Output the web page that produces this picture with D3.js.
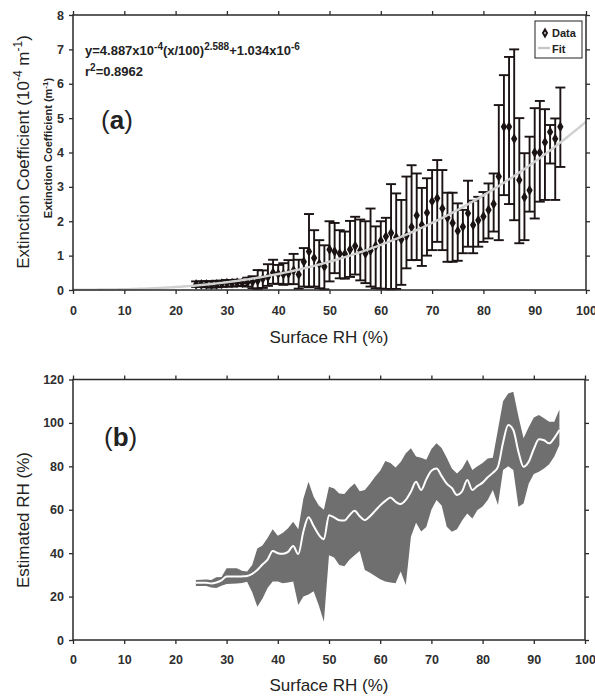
<!DOCTYPE html>
<html>
<head>
<meta charset="utf-8">
<script src="https://cdn.jsdelivr.net/npm/d3@7"></script>
<style>
  body { margin: 0; background: #fff; }
  svg { display: block; font-family: "Liberation Sans", Arial, sans-serif; }
</style>
</head>
<body>
<svg id="chart" width="595" height="697"></svg>
<script>
// Surface RH bins (%)
const surfaceRH = [24,25,26,27,28,29,30,31,32,33,34,35,36,37,38,39,40,41,42,43,
  44,45,46,47,48,49,50,51,52,53,54,55,56,57,58,59,60,61,62,63,
  64,65,66,67,68,69,70,71,72,73,74,75,76,77,78,79,80,81,82,83,
  84,85,86,87,88,89,90,91,92,93,94,95];

// Extinction coefficient per bin (10^-4 m^-1): mean and error-bar ends
const extMean = [0.16,0.16,0.16,0.15,0.16,0.18,0.20,0.20,0.21,0.21,
  0.22,0.24,0.27,0.33,0.38,0.50,0.47,0.46,0.48,0.57,
  0.45,0.82,1.12,0.93,0.76,0.68,1.18,1.12,1.06,1.05,
  1.18,1.28,1.15,1.06,1.15,1.28,1.43,1.56,1.66,1.53,
  1.47,1.58,1.83,2.17,1.89,2.25,2.58,2.67,2.37,2.10,
  1.95,1.72,1.84,2.23,1.89,2.03,2.14,2.33,2.50,3.30,
  4.75,4.75,4.40,3.20,2.70,2.90,4.00,4.00,4.30,4.60,4.40,4.75];
const extLow = [0.09,0.09,0.08,0.07,0.08,0.09,0.10,0.10,0.11,0.12,
  0.10,0.05,0.03,0.06,0.12,0.18,0.18,0.15,0.17,0.17,
  0.04,0.10,0.08,0.10,0.05,0.02,0.25,0.49,0.34,0.33,
  0.38,0.45,0.28,0.20,0.10,0.05,0.04,0.03,0.02,0.03,
  0.15,0.63,0.87,0.87,0.70,1.00,1.16,1.40,1.16,0.82,
  0.82,0.85,1.07,1.26,1.07,1.26,1.40,1.50,1.70,1.45,
  2.76,2.50,2.03,1.36,1.45,2.28,2.08,2.57,2.62,3.68,2.62,3.58];
const extHigh = [0.25,0.25,0.26,0.25,0.27,0.27,0.29,0.29,0.30,0.29,
  0.36,0.40,0.58,0.57,0.75,0.88,0.73,0.78,0.87,1.05,
  0.88,1.22,2.21,1.74,1.45,1.30,2.00,1.95,1.74,1.70,
  2.01,2.13,2.05,2.00,2.37,1.85,2.00,2.10,3.08,2.81,
  2.62,3.30,3.63,3.39,2.97,3.25,3.49,3.78,3.49,2.83,
  2.83,2.52,2.33,3.18,2.60,2.71,2.85,3.10,3.39,5.38,
  6.25,6.78,7.00,5.00,3.98,4.46,5.29,5.50,5.26,4.80,4.99,5.89];

// Estimated RH per bin (%): mean line and shaded range
const estMean = [26.4,26.4,26.4,26.0,26.5,27.5,29.2,29.2,29.2,29.3,
  29.5,30.5,32.2,34.8,37.0,41.0,40.0,39.7,40.6,43.3,
  39.6,50.0,56.5,52.5,48.5,46.4,57.5,56.5,55.2,55.0,
  57.5,59.5,57.0,55.2,57.0,59.5,62.0,64.1,65.7,63.7,
  62.6,64.5,68.3,72.9,69.1,74.0,78.0,79.0,75.5,72.0,
  70.0,66.8,68.5,73.7,69.1,71.0,72.5,75.0,77.0,79.8,
  91.0,99.0,96.7,86.7,79.8,82.1,88.0,92.5,92.0,90.6,93.0,96.7];
const estLow = [24.9,24.9,24.9,24.2,24.0,25.0,25.8,25.9,26.0,26.2,
  26.8,22.0,15.3,19.0,24.0,26.9,27.0,26.1,26.5,26.9,
  16.1,20.0,21.0,22.5,16.0,8.4,39.0,38.0,34.5,34.0,
  37.0,39.0,41.0,32.2,31.0,29.5,28.0,27.0,26.5,26.1,
  31.5,25.3,47.6,54.0,50.0,52.0,60.0,64.5,62.0,52.2,
  49.9,51.0,55.0,58.3,56.0,59.9,61.5,64.5,69.1,62.2,
  78.3,80.0,78.3,61.4,62.9,72.0,76.5,77.5,79.0,81.0,84.5,89.8];
const estHigh = [27.6,27.7,27.9,27.6,28.9,29.0,33.0,33.0,33.0,31.9,
  31.5,34.5,42.2,43.5,47.0,51.0,48.0,49.4,51.5,54.5,
  51.0,65.2,72.9,66.0,62.0,60.0,70.6,69.8,67.5,67.3,
  70.0,72.1,68.5,69.1,72.0,75.2,78.0,82.5,81.5,79.5,
  82.0,86.0,88.3,84.5,84.0,83.0,88.0,90.6,88.5,84.0,
  79.0,76.7,79.0,83.2,78.3,80.0,81.5,83.6,84.0,97.0,
  110.0,113.5,114.3,103.0,92.9,98.0,102.5,103.6,102.1,100.5,100.5,106.2];

// Tick values
const rhTicks = [0,10,20,30,40,50,60,70,80,90,100];
const extTicks = [0,1,2,3,4,5,6,7,8];
const estTicks = [0,20,40,60,80,100,120];

// Power-law fit y = a (x/100)^b + c  (m^-1)
const fitA = 4.887e-4, fitB = 2.588, fitC = 1.034e-6;
const fitR2 = 0.8962;

const svg = d3.select("#chart");
const frameColor = "#2a2a2a";
const tickColor = "#2e2e2e";
const ink = "#1c1414";

function frameAndAxes(g, x, y, yTicks, opts) {
  const [x0, x1] = x.range();
  const [y0, y1] = y.range();
  const ax = (axis) => axis.tickSizeOuter(0).tickSizeInner(4);
  const style = sel => {
    sel.select(".domain").remove();
    sel.selectAll(".tick line").attr("stroke", frameColor).attr("stroke-width", 1.3);
    sel.selectAll(".tick text").attr("fill", tickColor)
      .attr("font-size", 12.5).attr("font-weight", "bold")
      .attr("font-family", '"Liberation Sans", Arial, sans-serif');
  };
  g.append("g").attr("transform", `translate(0,${y0})`)
    .call(ax(d3.axisBottom(x)).tickValues(rhTicks).tickPadding(opts.xPad)).call(style);
  g.append("g").attr("transform", `translate(0,${y1})`)
    .call(ax(d3.axisTop(x)).tickValues(rhTicks).tickFormat(""))
    .call(style);
  g.append("g").attr("transform", `translate(${x0},0)`)
    .call(ax(d3.axisLeft(y)).tickValues(yTicks).tickPadding(5)).call(style);
  g.append("g").attr("transform", `translate(${x1},0)`)
    .call(ax(d3.axisRight(y)).tickValues(yTicks).tickFormat(""))
    .call(style);
  g.append("rect")
    .attr("x", x0).attr("y", y1).attr("width", x1 - x0).attr("height", y0 - y1)
    .attr("fill", "none").attr("stroke", frameColor).attr("stroke-width", 1.5);
}

function panelTag(g, x, y, letter) {
  const t = g.append("text").attr("x", x).attr("y", y).attr("font-size", 26).attr("fill", "#222");
  t.append("tspan").text("(");
  t.append("tspan").attr("font-weight", "bold").text(letter);
  t.append("tspan").text(")");
}

// ---------- Panel (a): extinction coefficient vs surface RH ----------
const xA = d3.scaleLinear().domain([0, 100]).range([73, 586]);
const yA = d3.scaleLinear().domain([0, 8]).range([290, 15]);
const gA = svg.append("g");

const bars = gA.append("g").attr("stroke", ink).attr("stroke-width", 1.9);
surfaceRH.forEach((rh, i) => {
  const cx = xA(rh);
  bars.append("line").attr("x1", cx).attr("x2", cx)
    .attr("y1", yA(extLow[i])).attr("y2", yA(extHigh[i]));
  [extLow[i], extHigh[i]].forEach(v => {
    bars.append("line").attr("x1", cx - 5).attr("x2", cx + 5)
      .attr("y1", yA(v)).attr("y2", yA(v));
  });
});
const diamond = d3.symbol().type(d3.symbolDiamond).size(18);
gA.append("g").selectAll("path").data(surfaceRH).join("path")
  .attr("transform", (d, i) => `translate(${xA(d)},${yA(extMean[i])})`)
  .attr("d", diamond).attr("fill", ink).attr("stroke", ink).attr("stroke-width", 1.5);

const fitX = d3.range(0, 100.01, 0.5);
const fitY = x => (fitA * Math.pow(x / 100, fitB) + fitC) * 1e4;
gA.append("path").datum(fitX)
  .attr("d", d3.line().x(d => xA(d)).y(d => yA(fitY(d))))
  .attr("fill", "none").attr("stroke", "#d0d0d0").attr("stroke-width", 2.4);

frameAndAxes(gA, xA, yA, extTicks, { xPad: 12 });

// fit equation
const eq = gA.append("text").attr("x", 85).attr("y", 55)
  .attr("font-size", 13).attr("font-weight", "bold").attr("fill", "#222");
const sup = (t) => eq.append("tspan").attr("font-size", 10).attr("dy", -5).text(t);
const base = (t) => eq.append("tspan").attr("font-size", 13).attr("dy", 5).text(t);
eq.append("tspan").text("y=4.887x10");
sup("-4"); base("(x/100)"); sup("2.588"); base("+1.034x10"); sup("-6");
const r2 = gA.append("text").attr("x", 85).attr("y", 76)
  .attr("font-size", 13).attr("font-weight", "bold").attr("fill", "#222");
r2.append("tspan").text("r");
r2.append("tspan").attr("font-size", 10).attr("dy", -5).text("2");
r2.append("tspan").attr("dy", 5).text("=" + fitR2.toFixed(4));

panelTag(gA, 101, 129, "a");

// legend
const lg = gA.append("g");
lg.append("rect").attr("x", 535).attr("y", 21).attr("width", 47).attr("height", 37)
  .attr("fill", "#fff").attr("stroke", "#222").attr("stroke-width", 1);
lg.append("path").attr("transform", "translate(545,33)")
  .attr("d", d3.symbol().type(d3.symbolDiamond).size(14))
  .attr("fill", "#fff").attr("stroke", ink).attr("stroke-width", 2);
lg.append("line").attr("x1", 538).attr("x2", 550).attr("y1", 48).attr("y2", 48)
  .attr("stroke", "#c9c9c9").attr("stroke-width", 2.4);
lg.append("text").attr("x", 552).attr("y", 37).attr("font-size", 11)
  .attr("font-weight", "bold").attr("fill", "#222").text("Data");
lg.append("text").attr("x", 552).attr("y", 53).attr("font-size", 11)
  .attr("font-weight", "bold").attr("fill", "#222").text("Fit");

// axis titles
const yTitle = svg.append("text")
  .attr("transform", `translate(29,${152}) rotate(-90)`)
  .attr("text-anchor", "middle").attr("font-size", 17).attr("fill", "#222");
yTitle.append("tspan").text("Extinction Coefficient (10");
yTitle.append("tspan").attr("font-size", 12).attr("dy", -7).text("-4");
yTitle.append("tspan").attr("dy", 7).text(" m");
yTitle.append("tspan").attr("font-size", 12).attr("dy", -7).text("-1");
yTitle.append("tspan").attr("dy", 7).text(")");

const yTitle2 = svg.append("text")
  .attr("transform", `translate(52,${148}) rotate(-90)`)
  .attr("text-anchor", "middle").attr("font-size", 11).attr("font-weight", "bold").attr("fill", "#222");
yTitle2.append("tspan").text("Extinction Coefficient (m");
yTitle2.append("tspan").attr("font-size", 8).attr("dy", -4).text("-1");
yTitle2.append("tspan").attr("dy", 4).text(")");

svg.append("text").attr("x", 329).attr("y", 343).attr("text-anchor", "middle")
  .attr("font-size", 17).attr("fill", "#222").text("Surface RH (%)");

// ---------- Panel (b): estimated RH vs surface RH ----------
const xB = d3.scaleLinear().domain([0, 100]).range([73, 585]);
const yB = d3.scaleLinear().domain([0, 120]).range([640, 379.5]);
const gB = svg.append("g");

gB.append("path").datum(surfaceRH)
  .attr("d", d3.area().x(d => xB(d))
    .y0((d, i) => yB(estLow[i])).y1((d, i) => yB(estHigh[i])))
  .attr("fill", "#6f6f6f");
gB.append("path").datum(surfaceRH)
  .attr("d", d3.line().curve(d3.curveMonotoneX).x(d => xB(d)).y((d, i) => yB(estMean[i])))
  .attr("fill", "none").attr("stroke", "#fff").attr("stroke-width", 2);

frameAndAxes(gB, xB, yB, estTicks, { xPad: 11 });

panelTag(gB, 104, 446, "b");

svg.append("text").attr("transform", `translate(29,520) rotate(-90)`)
  .attr("text-anchor", "middle").attr("font-size", 17).attr("fill", "#222")
  .text("Estimated RH (%)");
svg.append("text").attr("x", 329).attr("y", 691).attr("text-anchor", "middle")
  .attr("font-size", 17).attr("fill", "#222").text("Surface RH (%)");
</script>
</body>
</html>
